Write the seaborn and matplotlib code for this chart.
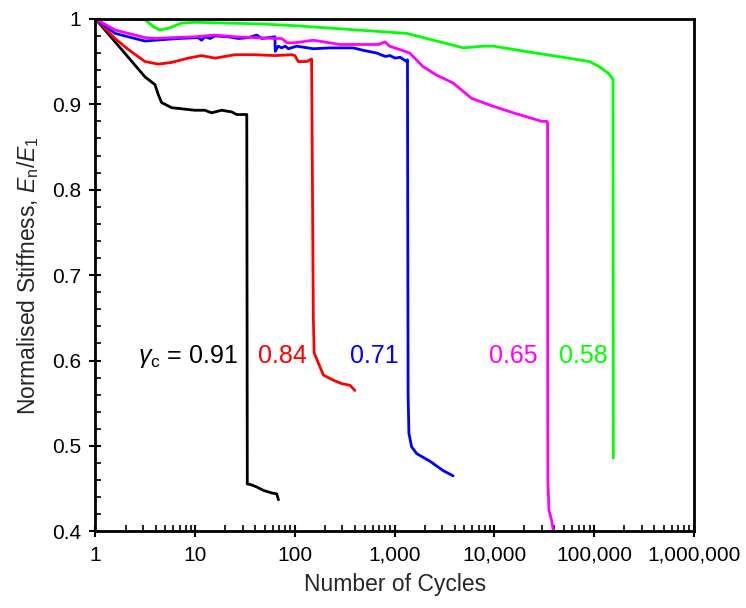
import numpy as np
import pandas as pd
import matplotlib
matplotlib.use("Agg")
import matplotlib.pyplot as plt
import matplotlib.ticker as mticker
import seaborn as sns

# ---------------- data ----------------
n_091 = [1, 3.14, 3.95, 4.27, 4.6, 5.8, 9.9, 12.5, 14.6, 18.4, 23.3, 26, 29.2, 32.9,
         33.3, 35.6, 41.4, 48.3, 58.5, 65.6, 68.4]
s_091 = [1, 0.932, 0.923, 0.911, 0.902, 0.896, 0.893, 0.893, 0.890, 0.893, 0.891, 0.888, 0.888, 0.888,
         0.4555, 0.455, 0.452, 0.448, 0.445, 0.444, 0.437]

n_084 = [1, 1.57, 2.14, 3.14, 4.27, 5.8, 8.5, 11.6, 15.8, 25, 39.8, 63, 93, 100, 108, 131, 147,
         150, 153, 156, 172, 193, 243, 294, 357, 400]
s_084 = [1, 0.977, 0.964, 0.950, 0.947, 0.949, 0.954, 0.957, 0.954, 0.958, 0.958, 0.957, 0.958, 0.957,
         0.950, 0.950, 0.953, 0.80, 0.65, 0.609, 0.597, 0.583, 0.577, 0.573, 0.571, 0.565]

n_071 = [1, 1.57, 2.13, 3.14, 3.95, 6.8, 10.7, 11.6, 12.5, 14.1, 15.8, 21.5, 27.1, 34.2, 41.4, 46.5,
         63, 63.5, 68, 73.6, 80, 86, 104, 153, 225, 385, 490, 660, 805, 900, 1010, 1135, 1320,
         1345, 1355, 1365, 1390, 1480, 1665, 2270, 3080, 3860]
s_071 = [1, 0.983, 0.979, 0.974, 0.975, 0.977, 0.978, 0.975, 0.979, 0.977, 0.980, 0.979, 0.977, 0.978,
         0.981, 0.977, 0.979, 0.962, 0.968, 0.966, 0.968, 0.965, 0.968, 0.965, 0.966, 0.966, 0.963,
         0.960, 0.956, 0.957, 0.954, 0.955, 0.950, 0.952, 0.75, 0.56, 0.515, 0.499, 0.491, 0.482,
         0.471, 0.465]

n_065 = [1, 1.57, 2.13, 3.14, 3.95, 5.8, 9.9, 15.8, 25, 39.8, 63, 73.6, 83, 100, 153, 282, 490, 690,
         800, 890, 1130, 1415, 1930, 2650, 3850, 5900, 9000, 15500, 29900, 33600, 34200, 34300,
         34400, 35300, 37500, 39500]
s_065 = [1, 0.987, 0.983, 0.978, 0.977, 0.978, 0.979, 0.981, 0.979, 0.978, 0.977, 0.977, 0.972, 0.972,
         0.975, 0.970, 0.970, 0.970, 0.973, 0.968, 0.964, 0.960, 0.944, 0.934, 0.925, 0.907, 0.899,
         0.890, 0.880, 0.880, 0.878, 0.60, 0.46, 0.425, 0.413, 0.398]

n_058 = [1, 3.14, 3.8, 4.4, 5.4, 7.3, 9.9, 21.5, 46.5, 100, 415, 1320, 2850, 4900, 7700, 9800,
         22800, 49000, 90000, 113000, 140000, 155000, 156000]
s_058 = [1, 0.999, 0.991, 0.987, 0.989, 0.995, 0.996, 0.995, 0.994, 0.992, 0.987, 0.983, 0.973,
         0.966, 0.968, 0.968, 0.961, 0.955, 0.950, 0.944, 0.936, 0.929, 0.486]

series_names = ["0.91", "0.84", "0.71", "0.65", "0.58"]
series_n = [n_091, n_084, n_071, n_065, n_058]
series_s = [s_091, s_084, s_071, s_065, s_058]
series_colors = ["#000000", "#FF0000", "#0000FF", "#FF00FF", "#00FF00"]

x_ticks = [1, 10, 100, 1000, 10000, 100000, 1000000]
x_tick_labels = ["1", "10", "100", "1,000", "10,000", "100,000", "1,000,000"]
y_ticks = [0.4, 0.5, 0.6, 0.7, 0.8, 0.9, 1.0]
y_tick_labels = ["0.4", "0.5", "0.6", "0.7", "0.8", "0.9", "1"]

# label anchors (right edge) for the gamma annotations
label_text = [r"$\gamma_\mathrm{c}$ = 0.91", "0.84", "0.71", "0.65", "0.58"]
label_x = [26.9, 132, 1087, 27400, 136000]
label_y = 0.605

# ---------------- build long table ----------------
frames = []
for name, n, s in zip(series_names, series_n, series_s):
    frames.append(pd.DataFrame({"N": n, "S": s, "series": name,
                                "order": np.arange(len(n))}))
df = pd.concat(frames, ignore_index=True)

# ---------------- plotting ----------------
sns.set_style("ticks")
plt.rcParams["font.family"] = ["Liberation Sans", "DejaVu Sans"]
plt.rcParams["mathtext.fontset"] = "custom"
plt.rcParams["mathtext.rm"] = "Liberation Sans"
plt.rcParams["mathtext.it"] = "Liberation Sans:italic"
plt.rcParams["mathtext.bf"] = "Liberation Sans:bold"

fig = plt.figure(figsize=(7.46, 6.08), dpi=100)
ax = fig.add_axes([0.128, 0.126, 0.802, 0.843])

sns.lineplot(data=df, x="N", y="S", hue="series", hue_order=series_names,
             palette=dict(zip(series_names, series_colors)), sort=False,
             estimator=None, units="series", linewidth=2.0, legend=False, ax=ax)

ax.set_xscale("log")
ax.set_xlim(1, 1e6)
ax.set_ylim(0.4, 1.0)

ax.xaxis.set_major_locator(mticker.FixedLocator(x_ticks))
ax.xaxis.set_major_formatter(mticker.FixedFormatter(x_tick_labels))
ax.xaxis.set_minor_locator(mticker.LogLocator(base=10, subs=np.arange(2, 10), numticks=20))
ax.xaxis.set_minor_formatter(mticker.NullFormatter())

ax.yaxis.set_major_locator(mticker.FixedLocator(y_ticks))
ax.yaxis.set_major_formatter(mticker.FixedFormatter(y_tick_labels))
ax.yaxis.set_minor_locator(mticker.MultipleLocator(0.02))

ax.tick_params(which="major", direction="inout", length=9, width=1.5,
               labelsize=15, colors="black", pad=6)
ax.tick_params(which="minor", direction="in", length=4.5, width=1.2, colors="black")
ax.tick_params(axis="x", which="both", top=False)
ax.tick_params(axis="y", which="both", right=False)

for sp in ax.spines.values():
    sp.set_visible(True)
    sp.set_linewidth(2.0)
    sp.set_color("black")

ax.set_xlabel("Number of Cycles", fontsize=16.5, labelpad=6)
ax.set_ylabel(r"Normalised Stiffness, $E_\mathrm{n}/E_1$", fontsize=16.5, labelpad=8)

for txt, lx, col in zip(label_text, label_x, series_colors):
    ax.text(lx, label_y, txt, color=col, fontsize=18, ha="right", va="center")

fig.savefig("out.png", dpi=100, facecolor="white")
